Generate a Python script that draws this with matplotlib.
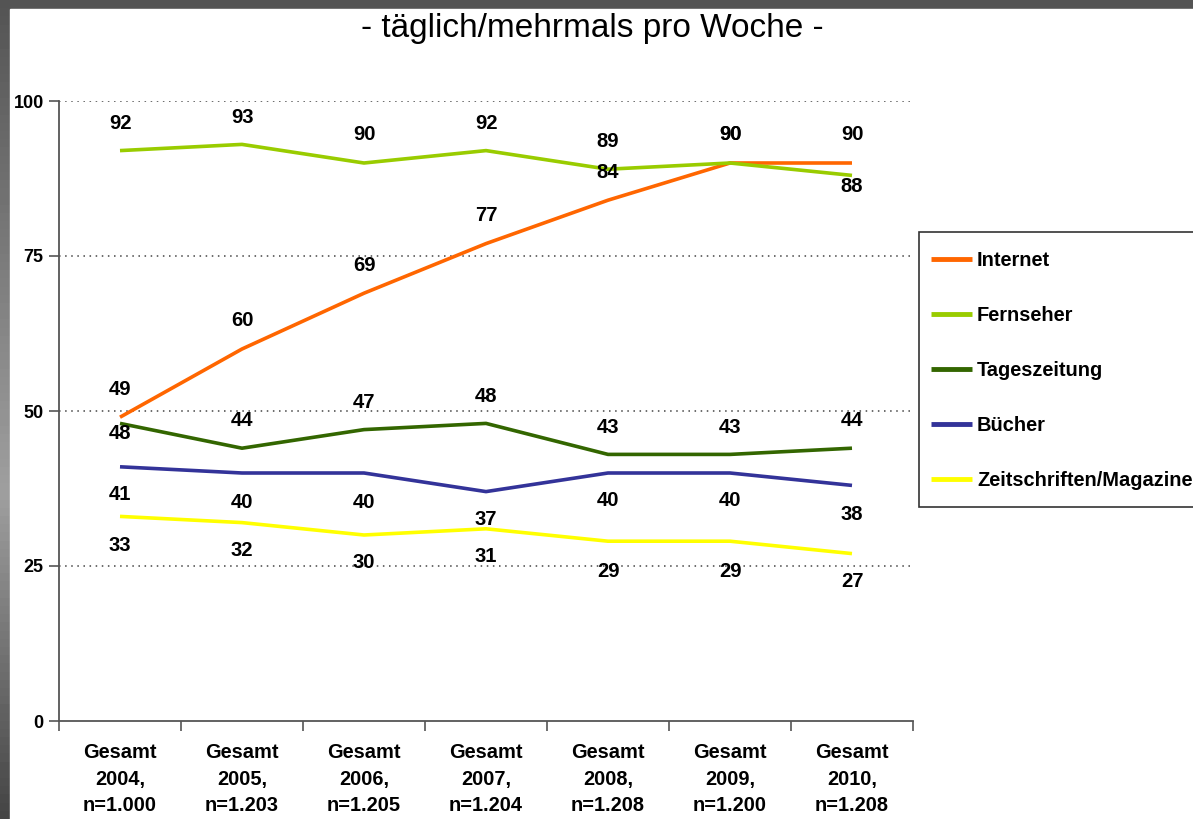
import numpy as np
import matplotlib
matplotlib.use("Agg")
import matplotlib.pyplot as plt
from matplotlib.patches import Rectangle

plt.rcParams['font.family'] = ['Liberation Sans', 'DejaVu Sans']

categories = ["Gesamt\n2004,\nn=1.000", "Gesamt\n2005,\nn=1.203", "Gesamt\n2006,\nn=1.205",
              "Gesamt\n2007,\nn=1.204", "Gesamt\n2008,\nn=1.208", "Gesamt\n2009,\nn=1.200",
              "Gesamt\n2010,\nn=1.208"]
internet = [49, 60, 69, 77, 84, 90, 90]
fernseher = [92, 93, 90, 92, 89, 90, 88]
tageszeitung = [48, 44, 47, 48, 43, 43, 44]
buecher = [41, 40, 40, 37, 40, 40, 38]
zeitschriften = [33, 32, 30, 31, 29, 29, 27]

series = [
    ("Internet", internet, "#FF6600"),
    ("Fernseher", fernseher, "#99CC00"),
    ("Tageszeitung", tageszeitung, "#336600"),
    ("Bücher", buecher, "#333399"),
    ("Zeitschriften/Magazine", zeitschriften, "#FFFF00"),
]

# label offsets in pixels (positive = above the line)
offsets = {
    "Internet": [28] * 7,
    "Fernseher": [27, 27, 28, 27, 28, 28, -11],
    "Tageszeitung": [-10, 28, 27, 27, 27, 27, 28],
    "Bücher": [-28, -30, -30, -28, -28, -28, -29],
    "Zeitschriften/Magazine": [-29, -28, -28, -28, -30, -30, -28],
}

W, H = 1193, 819
fig = plt.figure(figsize=(W / 100, H / 100), dpi=100)
fig.patch.set_facecolor("#555555")

# background: gray frame with gradient strip on the left, white slide area
bg = fig.add_axes([0, 0, 1, 1], zorder=-10)
prof = np.concatenate([np.linspace(0.33, 0.62, 60), np.linspace(0.62, 0.27, 40)])
bg.imshow(prof[:, None] * np.ones((1, 10)), cmap="gray", vmin=0, vmax=1,
          aspect="auto", extent=[0, 1, 0, 1])
bg.add_patch(Rectangle((10 / W, 0), 1, 1 - 9 / H, color="white", zorder=2))
# legend frame (cut off at the right edge like the slide)
bg.add_patch(Rectangle((919 / W, 1 - 507 / H), 300 / W, 275 / H, facecolor="white",
                       edgecolor="#333333", lw=1.2, zorder=3))
bg.set_xlim(0, 1)
bg.set_ylim(0, 1)
bg.axis("off")

ax = fig.add_axes([59 / W, 1 - 721 / H, (913 - 59) / W, (721 - 101) / H])
ax.set_facecolor("none")
x = np.arange(len(categories))

for name, vals, col in series:
    ax.plot(x, vals, color=col, lw=2.6, label=name, solid_capstyle="butt")
    for i, v in enumerate(vals):
        off = offsets[name][i]
        ax.annotate(str(v), (x[i], v), xytext=(0, off * 0.72), textcoords="offset points",
                    ha="center", va="center", fontsize=14.6, fontweight="bold", color="black")

ax.set_xlim(-0.5, 6.5)
ax.set_ylim(0, 100)
ax.set_yticks([0, 25, 50, 75, 100])
for g in [25, 50, 75, 100]:
    ax.axhline(g, color="#444444", lw=1.1, ls=(0, (1, 3)), zorder=0)

ax.set_xticks(x)
ax.set_xticklabels(categories, fontsize=14.4, fontweight="bold", linespacing=1.5)
ax.set_xticks(np.arange(-0.5, 7, 1), minor=True)
ax.tick_params(axis="x", which="major", length=0, pad=16)
ax.tick_params(axis="x", which="minor", length=7, width=1.2, color="#555555", direction="out")
ax.tick_params(axis="y", length=7, width=1.2, color="#555555", direction="out", pad=4)
for lab in ax.get_yticklabels():
    lab.set_fontsize(13)
    lab.set_fontweight("bold")

for s in ["top", "right"]:
    ax.spines[s].set_visible(False)
for s in ["left", "bottom"]:
    ax.spines[s].set_color("#555555")
    ax.spines[s].set_linewidth(1.3)

fig.text(592 / W, 1 - 28 / H, "- täglich/mehrmals pro Woche -", ha="center", va="center",
         fontsize=24, color="black")

leg = fig.legend(loc="upper left", bbox_to_anchor=(931 / W, 1 - 251 / H), borderaxespad=0,
                 prop={"size": 14.4, "weight": "bold"}, handlelength=2.05, handletextpad=0.25,
                 labelspacing=1.8, borderpad=0, frameon=False)
for h in leg.get_lines():
    h.set_linewidth(3.5)

fig.savefig("out.png", dpi=100)
